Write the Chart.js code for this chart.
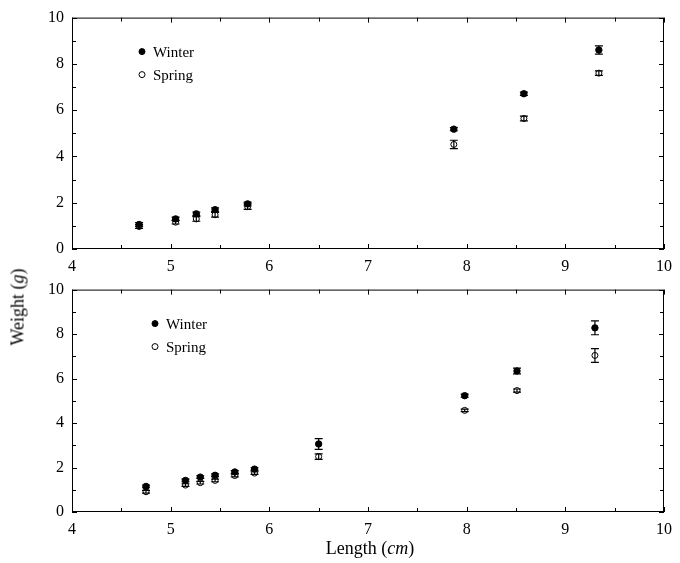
<!DOCTYPE html>
<html>
<head>
<meta charset="utf-8">
<script src="https://cdn.jsdelivr.net/npm/chart.js@4.4.1/dist/chart.umd.min.js"></script>
<style>
  body { margin: 0; background: #fff; }
  #wrap { position: relative; width: 680px; height: 563px; font-family: "Liberation Serif", serif; }
  canvas { position: absolute; left: 0; }
  #topChart { top: 0; }
  #bottomChart { top: 272px; }
  .axis-title { position: absolute; font-size: 18px; color: #000; white-space: nowrap; }
  #xTitle { left: 370px; top: 548px; transform: translate(-50%, -50%); }
  #yTitle { left: 18px; top: 307px; transform: translate(-50%, -50%) rotate(-90deg); }
</style>
</head>
<body>
<div id="wrap">
  <canvas id="topChart" width="680" height="272"></canvas>
  <canvas id="bottomChart" width="680" height="291"></canvas>
  <div class="axis-title" id="xTitle">Length (<i>cm</i>)</div>
  <div class="axis-title" id="yTitle">Weight (<i>g</i>)</div>
</div>
<script>
// --- DATA ---

const seriesNames = ['Winter', 'Spring'];

// upper panel
const topLength = [4.68, 5.05, 5.26, 5.45, 5.78, 7.87, 8.58, 9.34];
const topWinter = [1.06, 1.30, 1.52, 1.70, 1.95, 5.18, 6.71, 8.60];
const topWinterErr = [0.08, 0.08, 0.08, 0.08, 0.08, 0.07, 0.07, 0.18];
const topSpring = [0.97, 1.16, 1.30, 1.48, 1.83, 4.52, 5.64, 7.60];
const topSpringErr = [0.08, 0.08, 0.10, 0.10, 0.12, 0.18, 0.10, 0.10];

// lower panel
const bottomLength = [4.75, 5.15, 5.30, 5.45, 5.65, 5.85, 6.50, 7.98, 8.51, 9.30];
const bottomWinter = [1.15, 1.42, 1.57, 1.65, 1.80, 1.93, 3.06, 5.23, 6.34, 8.28];
const bottomWinterErr = [0.06, 0.06, 0.06, 0.06, 0.06, 0.06, 0.24, 0.07, 0.13, 0.31];
const bottomSpring = [0.91, 1.21, 1.32, 1.42, 1.64, 1.75, 2.49, 4.57, 5.46, 7.04];
const bottomSpringErr = [0.06, 0.06, 0.06, 0.06, 0.06, 0.06, 0.12, 0.06, 0.07, 0.31];

const xMin = 4, xMax = 10, xStep = 1, xMinor = 0.5;
const yMin = 0, yMax = 10, yStep = 2, yMinor = 1;

const serif = '"Liberation Serif", "Times New Roman", serif';

// --- PLUGINS ---

// frame with inward ticks on all four sides
const framePlugin = {
    id: 'frame',
    afterDraw(chart) {
        const { ctx, chartArea: a, scales } = chart;
        const xs = scales.x, ys = scales.y;
        ctx.save();
        ctx.strokeStyle = '#000';
        ctx.lineWidth = 1;
        ctx.strokeRect(a.left + 0.5, a.top + 0.5, a.right - a.left - 1, a.bottom - a.top - 1);
        ctx.beginPath();
        for (let v = xMin; v <= xMax + 1e-9; v += xMinor) {
            const len = Math.abs(v - Math.round(v)) < 1e-9 ? 5 : 4;
            const px = Math.round(xs.getPixelForValue(v)) + 0.5;
            ctx.moveTo(px, a.bottom); ctx.lineTo(px, a.bottom - len);
            ctx.moveTo(px, a.top); ctx.lineTo(px, a.top + len);
        }
        for (let v = yMin; v <= yMax + 1e-9; v += yMinor) {
            const len = v % yStep === 0 ? 5 : 4;
            const py = Math.round(ys.getPixelForValue(v)) + 0.5;
            ctx.moveTo(a.left, py); ctx.lineTo(a.left + len, py);
            ctx.moveTo(a.right, py); ctx.lineTo(a.right - len, py);
        }
        ctx.stroke();
        ctx.restore();
    }
};

// vertical error bars with caps
const errorBarPlugin = {
    id: 'errorBars',
    afterDatasetsDraw(chart) {
        const { ctx, scales } = chart;
        ctx.save();
        ctx.strokeStyle = '#000';
        ctx.lineWidth = 1.2;
        chart.data.datasets.forEach(ds => {
            ds.data.forEach((p, i) => {
                const e = ds.errors[i];
                const px = scales.x.getPixelForValue(p.x);
                const y1 = scales.y.getPixelForValue(p.y - e);
                const y2 = scales.y.getPixelForValue(p.y + e);
                ctx.beginPath();
                ctx.moveTo(px, y1); ctx.lineTo(px, y2);
                ctx.moveTo(px - 4, y1); ctx.lineTo(px + 4, y1);
                ctx.moveTo(px - 4, y2); ctx.lineTo(px + 4, y2);
                ctx.stroke();
            });
        });
        ctx.restore();
    }
};

// legend inside the plot area
const innerLegendPlugin = {
    id: 'innerLegend',
    afterDraw(chart, args, opts) {
        const { ctx, chartArea: a } = chart;
        ctx.save();
        ctx.font = '15px ' + serif;
        ctx.textBaseline = 'middle';
        chart.data.datasets.forEach((ds, i) => {
            const cx = a.left + opts.x;
            const cy = a.top + 34 + i * 23;
            ctx.beginPath();
            ctx.arc(cx, cy, 3, 0, Math.PI * 2);
            ctx.fillStyle = ds.pointBackgroundColor;
            ctx.fill();
            ctx.strokeStyle = '#000';
            ctx.lineWidth = 1;
            ctx.stroke();
            ctx.fillStyle = '#000';
            ctx.fillText(ds.label, cx + 11, cy + 1);
        });
        ctx.restore();
    }
};

// --- CHART BUILDER ---

function toPoints(xs, ys) {
    return xs.map((x, i) => ({ x: x, y: ys[i] }));
}

function makePanel(canvasId, lengths, winter, winterErr, spring, springErr, topPad, xAxisHeight, legendX) {
    const ctx = document.getElementById(canvasId).getContext('2d');
    return new Chart(ctx, {
        type: 'scatter',
        data: {
            datasets: [
                {
                    label: seriesNames[0],
                    data: toPoints(lengths, winter),
                    errors: winterErr,
                    pointRadius: 3.2,
                    pointBackgroundColor: '#000',
                    pointBorderColor: '#000',
                    pointBorderWidth: 1
                },
                {
                    label: seriesNames[1],
                    data: toPoints(lengths, spring),
                    errors: springErr,
                    pointRadius: 3,
                    pointBackgroundColor: '#fff',
                    pointBorderColor: '#000',
                    pointBorderWidth: 1
                }
            ]
        },
        options: {
            responsive: false,
            animation: false,
            devicePixelRatio: 1,
            layout: { padding: { top: topPad, right: 12, left: 0, bottom: 0 } },
            plugins: {
                legend: { display: false },
                tooltip: { enabled: false },
                innerLegend: { x: legendX }
            },
            scales: {
                x: {
                    type: 'linear',
                    min: xMin,
                    max: xMax,
                    grid: { display: false, drawTicks: false },
                    border: { display: false },
                    ticks: {
                        stepSize: xStep,
                        padding: 8,
                        color: '#000',
                        font: { family: serif, size: 16 }
                    },
                    afterFit: s => { s.height = xAxisHeight; }
                },
                y: {
                    min: yMin,
                    max: yMax,
                    grid: { display: false, drawTicks: false },
                    border: { display: false },
                    ticks: {
                        stepSize: yStep,
                        padding: 8,
                        color: '#000',
                        font: { family: serif, size: 16 }
                    },
                    afterFit: s => { s.width = 72; }
                }
            }
        },
        plugins: [framePlugin, errorBarPlugin, innerLegendPlugin]
    });
}

makePanel('topChart', topLength, topWinter, topWinterErr, topSpring, topSpringErr, 15, 23, 70);
makePanel('bottomChart', bottomLength, bottomWinter, bottomWinterErr, bottomSpring, bottomSpringErr, 8, 51, 83);
</script>
</body>
</html>
